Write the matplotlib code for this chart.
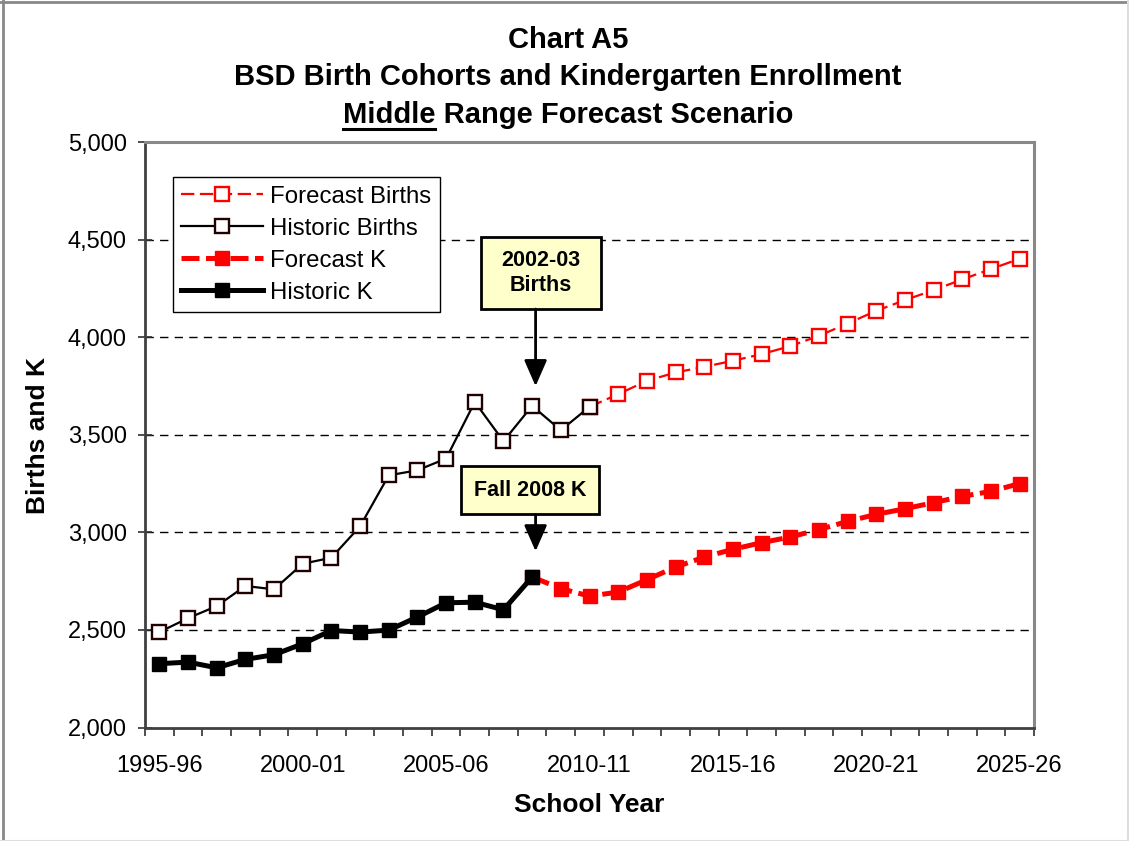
import numpy as np
import matplotlib
matplotlib.use('Agg')
import matplotlib.pyplot as plt
from matplotlib.lines import Line2D
from matplotlib.patches import Rectangle
from matplotlib.ticker import FuncFormatter, FixedLocator

plt.rcParams['font.family'] = ['Liberation Sans', 'DejaVu Sans']

# school years on the category axis
school_years = ['1995-96', '1996-97', '1997-98', '1998-99', '1999-00', '2000-01',
                '2001-02', '2002-03', '2003-04', '2004-05', '2005-06', '2006-07',
                '2007-08', '2008-09', '2009-10', '2010-11', '2011-12', '2012-13',
                '2013-14', '2014-15', '2015-16', '2016-17', '2017-18', '2018-19',
                '2019-20', '2020-21', '2021-22', '2022-23', '2023-24', '2024-25',
                '2025-26']
tick_years = ['1995-96', '2000-01', '2005-06', '2010-11', '2015-16', '2020-21', '2025-26']

# historic births 1995-96 .. 2010-11
historic_births = [2489, 2560, 2622, 2725, 2708, 2839, 2870, 3031, 3292, 3318,
                   3378, 3668, 3467, 3648, 3523, 3643]
# forecast births 2010-11 .. 2025-26
forecast_births = [3643, 3708, 3776, 3819, 3848, 3879, 3913, 3954, 4007, 4070,
                   4135, 4190, 4241, 4296, 4349, 4402]
# historic K 1995-96 .. 2008-09
historic_k = [2327, 2335, 2306, 2349, 2373, 2429, 2497, 2489, 2499, 2566,
              2639, 2642, 2603, 2771]
# forecast K 2008-09 .. 2025-26
forecast_k = [2771, 2712, 2673, 2694, 2757, 2822, 2873, 2913, 2947, 2976,
              3014, 3056, 3092, 3121, 3152, 3184, 3210, 3250]

x_hb = np.arange(len(historic_births))
x_fb = np.arange(len(forecast_births)) + school_years.index('2010-11')
x_hk = np.arange(len(historic_k))
x_fk = np.arange(len(forecast_k)) + school_years.index('2008-09')

fig = plt.figure(figsize=(11.29, 8.41), dpi=100)
ax = fig.add_axes([145 / 1129, 1 - 727.5 / 841, (1034 - 145) / 1129, (727.5 - 142) / 841])

# gridlines
for v in [2500, 3000, 3500, 4000, 4500]:
    ax.axhline(v, color='black', lw=1.0, dashes=(6, 4.5), zorder=1)

fb, = ax.plot(x_fb, forecast_births, color='red', lw=1.6, dashes=(6, 2.5),
              marker='s', ms=10, mfc='white', mec='red', mew=1.7, zorder=3)
hb, = ax.plot(x_hb, historic_births, color='black', lw=1.6,
              marker='s', ms=10, mfc='white', mec='#200000', mew=1.7, zorder=4)
fk, = ax.plot(x_fk, forecast_k, color='red', lw=3.6, dashes=(3.6, 1.3),
              marker='s', ms=10.5, mfc='red', mec='red', zorder=3)
hk, = ax.plot(x_hk, historic_k, color='black', lw=3.6,
              marker='s', ms=10.5, mfc='black', mec='black', zorder=4)

ax.set_xlim(-0.5, len(school_years) - 0.5)
ax.set_ylim(2000, 5000)

ax.xaxis.set_major_locator(FixedLocator([school_years.index(t) for t in tick_years]))
ax.set_xticklabels(tick_years)
ax.xaxis.set_minor_locator(FixedLocator(np.arange(-0.5, len(school_years), 1.0)))
ax.tick_params(axis='x', which='major', length=0, pad=20, labelsize=17)
ax.tick_params(axis='x', which='minor', length=6, width=1.2, direction='out', color='#303030')
ax.set_yticks([2000, 2500, 3000, 3500, 4000, 4500, 5000])
ax.yaxis.set_major_formatter(FuncFormatter(lambda v, p: '{:,.0f}'.format(v)))
ax.tick_params(axis='y', length=10, width=1.2, direction='inout', pad=8, labelsize=17,
               color='#303030')

for s in ['left', 'bottom']:
    ax.spines[s].set_color('#404040')
    ax.spines[s].set_linewidth(2)
for s in ['top', 'right']:
    ax.spines[s].set_color('#888888')
    ax.spines[s].set_linewidth(2.2)

leg = ax.legend([fb, hb, fk, hk], ['Forecast Births', 'Historic Births', 'Forecast K', 'Historic K'],
                loc='upper left', bbox_to_anchor=(0.0315, 0.94), borderaxespad=0,
                fontsize=17.3, handlelength=3.4, handletextpad=0.3, labelspacing=0.42,
                borderpad=0.35, numpoints=1, fancybox=False, framealpha=1)
leg.get_frame().set_edgecolor('black')
leg.get_frame().set_linewidth(1.0)

# callout boxes with arrows
box_fc = '#ffffcc'
ax.add_patch(Rectangle((11.23, 4144), 15.39 - 11.23, 4514 - 4144, fc=box_fc, ec='black',
                       lw=2, zorder=6))
ax.text(13.31, 4329, '2002-03\nBirths', ha='center', va='center', fontsize=15.5,
        fontweight='bold', linespacing=1.3, zorder=7)
ax.annotate('', xy=(13.12, 3749), xytext=(13.12, 4144),
            arrowprops=dict(arrowstyle='-|>,head_length=0.8,head_width=0.35', color='black',
                            lw=2, mutation_scale=20, shrinkA=0, shrinkB=0), zorder=6)

ax.add_patch(Rectangle((10.53, 3092), 15.32 - 10.53, 3338 - 3092, fc=box_fc, ec='black',
                       lw=2, zorder=6))
ax.text(12.93, 3215, 'Fall 2008 K', ha='center', va='center', fontsize=15.5,
        fontweight='bold', zorder=7)
ax.annotate('', xy=(13.12, 2903), xytext=(13.12, 3092),
            arrowprops=dict(arrowstyle='-|>,head_length=0.8,head_width=0.35', color='black',
                            lw=2, mutation_scale=20, shrinkA=0, shrinkB=0), zorder=6)

# axis titles
fig.text(0.522, 1 - 805 / 841, 'School Year', ha='center', va='center', fontsize=19,
         fontweight='bold')
fig.text(38 / 1129, 1 - 435 / 841, 'Births and K', ha='center', va='center', fontsize=19,
         fontweight='bold', rotation=90)

# title
tx = 0.503
fig.text(tx, 1 - 40 / 841, 'Chart A5', ha='center', va='center', fontsize=21, fontweight='bold')
fig.text(tx, 1 - 77 / 841, 'BSD Birth Cohorts and Kindergarten Enrollment', ha='center',
         va='center', fontsize=21, fontweight='bold')
t3 = fig.text(tx, 1 - 115 / 841, 'Middle Range Forecast Scenario', ha='center', va='center',
              fontsize=21, fontweight='bold')
fig.canvas.draw()
r = fig.canvas.get_renderer()
bb = t3.get_window_extent(r)
tm = fig.text(0, 0, 'Middle', fontsize=21, fontweight='bold')
wm = tm.get_window_extent(r).width
tm.remove()
W = fig.bbox.width
yu = 1 - 129 / 841
fig.add_artist(Line2D([bb.x0 / W, (bb.x0 + wm) / W], [yu, yu], transform=fig.transFigure,
                      color='black', lw=2.2))

# outer frame of the chart
fig.add_artist(Line2D([3 / 1129, 3 / 1129], [0, 1], transform=fig.transFigure, color='#888888', lw=2))
fig.add_artist(Line2D([0, 1], [1 - 1.5 / 841, 1 - 1.5 / 841], transform=fig.transFigure, color='#888888', lw=2))
fig.add_artist(Line2D([1127.5 / 1129, 1127.5 / 1129], [0, 1], transform=fig.transFigure, color='#dddddd', lw=1.5))
fig.add_artist(Line2D([0, 1], [0.5 / 841, 0.5 / 841], transform=fig.transFigure, color='#dddddd', lw=1.5))

fig.savefig('out.png', dpi=100)
